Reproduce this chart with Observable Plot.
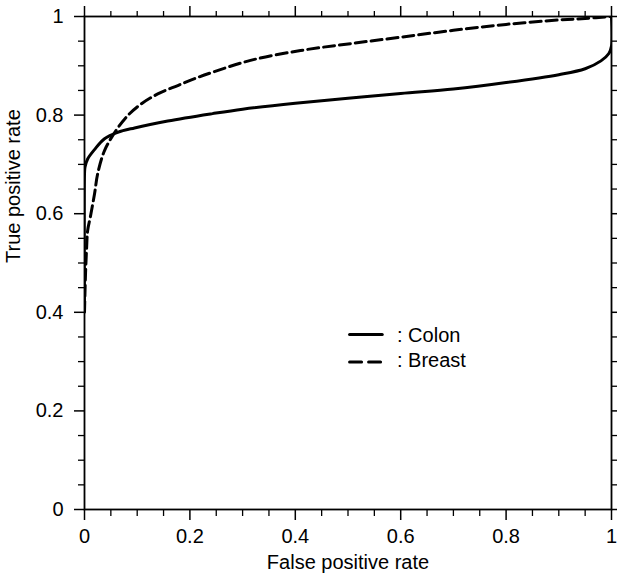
<!DOCTYPE html>
<html><head><meta charset="utf-8">
<script src="https://cdn.jsdelivr.net/npm/d3@7"></script>
<script src="https://cdn.jsdelivr.net/npm/@observablehq/plot@0.6"></script>
<style>body{margin:0;background:#fff}</style>
</head><body><div id="chart"></div>
<script>
const colonFPR = [0, 0, 0.001, 0.006, 0.019, 0.038, 0.063, 0.095, 0.158, 0.243, 0.3, 0.4, 0.5, 0.6, 0.7, 0.8, 0.9, 0.95, 0.98, 0.995, 1, 1];
const colonTPR = [0.42, 0.68, 0.695, 0.711, 0.73, 0.752, 0.765, 0.774, 0.788, 0.803, 0.812, 0.824, 0.834, 0.844, 0.853, 0.866, 0.882, 0.894, 0.91, 0.925, 0.94, 1.0];
const breastFPR = [0, 0.002, 0.004, 0.006, 0.011, 0.019, 0.025, 0.038, 0.060, 0.082, 0.108, 0.139, 0.177, 0.209, 0.243, 0.315, 0.41, 0.505, 0.6, 0.7, 0.8, 0.9, 0.95, 1];
const breastTPR = [0.40, 0.48, 0.53, 0.566, 0.593, 0.640, 0.681, 0.728, 0.769, 0.799, 0.823, 0.843, 0.860, 0.874, 0.887, 0.911, 0.931, 0.945, 0.958, 0.972, 0.984, 0.993, 0.996, 1];
const majorTicks = [0, 0.2, 0.4, 0.6, 0.8, 1];
const tickLabels = ["0", "0.2", "0.4", "0.6", "0.8", "1"];
const minorTicks = [0.05, 0.1, 0.15, 0.25, 0.3, 0.35, 0.45, 0.5, 0.55, 0.65, 0.7, 0.75, 0.85, 0.9, 0.95];
const seriesNames = [": Colon", ": Breast"];
const xTitle = "False positive rate";
const yTitle = "True positive rate";

const colon = colonFPR.map((x, i) => ({x, y: colonTPR[i]}));
const breast = breastFPR.map((x, i) => ({x, y: breastTPR[i]}));
const fmt = d => tickLabels[majorTicks.indexOf(d)];
const none = () => "";
const font = "'Liberation Sans', Arial, Helvetica, sans-serif";

const plot = Plot.plot({
  width: 617, height: 577,
  marginLeft: 84, marginRight: 6, marginTop: 16, marginBottom: 68,
  x: {domain: [0, 1]},
  y: {domain: [0, 1]},
  style: {fontFamily: font, fontSize: "20px", color: "#000", background: "#fff"},
  marks: [
    Plot.axisX(minorTicks, {anchor: "bottom", tickSize: 7, tickFormat: none, label: null, strokeWidth: 1.3}),
    Plot.axisX(majorTicks, {anchor: "bottom", tickSize: 11, tickPadding: 8, tickFormat: fmt, label: null, strokeWidth: 1.5, fontSize: 20}),
    Plot.axisX(minorTicks, {anchor: "top", tickSize: 6, tickFormat: none, label: null, strokeWidth: 1.3}),
    Plot.axisX(majorTicks, {anchor: "top", tickSize: 11, tickFormat: none, label: null, strokeWidth: 1.5}),
    Plot.axisY(minorTicks, {anchor: "left", tickSize: 6, tickFormat: none, label: null, strokeWidth: 1.3}),
    Plot.axisY(majorTicks, {anchor: "left", tickSize: 10, tickPadding: 11, tickFormat: fmt, label: null, strokeWidth: 1.5, fontSize: 20}),
    Plot.axisY(minorTicks, {anchor: "right", tickSize: 6, tickFormat: none, label: null, strokeWidth: 1.3}),
    Plot.axisY(majorTicks, {anchor: "right", tickSize: 6, tickFormat: none, label: null, strokeWidth: 1.5}),
    Plot.frame({stroke: "black", strokeWidth: 1.8}),
    Plot.line(colon, {x: "x", y: "y", curve: "catmull-rom", stroke: "black", strokeWidth: 3, clip: true}),
    Plot.line(breast, {x: "x", y: "y", curve: "catmull-rom", stroke: "black", strokeWidth: 3, strokeDasharray: "11,5", clip: true}),
    Plot.line([{x: 0.503, y: 0.355}, {x: 0.565, y: 0.355}], {x: "x", y: "y", stroke: "black", strokeWidth: 3}),
    Plot.line([{x: 0.503, y: 0.299}, {x: 0.565, y: 0.299}], {x: "x", y: "y", stroke: "black", strokeWidth: 3, strokeDasharray: "12,7"}),
    Plot.text([seriesNames[0]], {x: 0.593, y: 0.352, text: d => d, textAnchor: "start", lineAnchor: "middle", fontSize: 20}),
    Plot.text([seriesNames[1]], {x: 0.593, y: 0.303, text: d => d, textAnchor: "start", lineAnchor: "middle", fontSize: 20}),
    Plot.text([xTitle], {frameAnchor: "bottom", text: d => d, dy: 45, lineAnchor: "top", fontSize: 20}),
    Plot.text([yTitle], {frameAnchor: "left", text: d => d, rotate: -90, dx: -71, lineAnchor: "middle", fontSize: 20})
  ]
});
document.getElementById("chart").appendChild(plot);
</script>
</body></html>
